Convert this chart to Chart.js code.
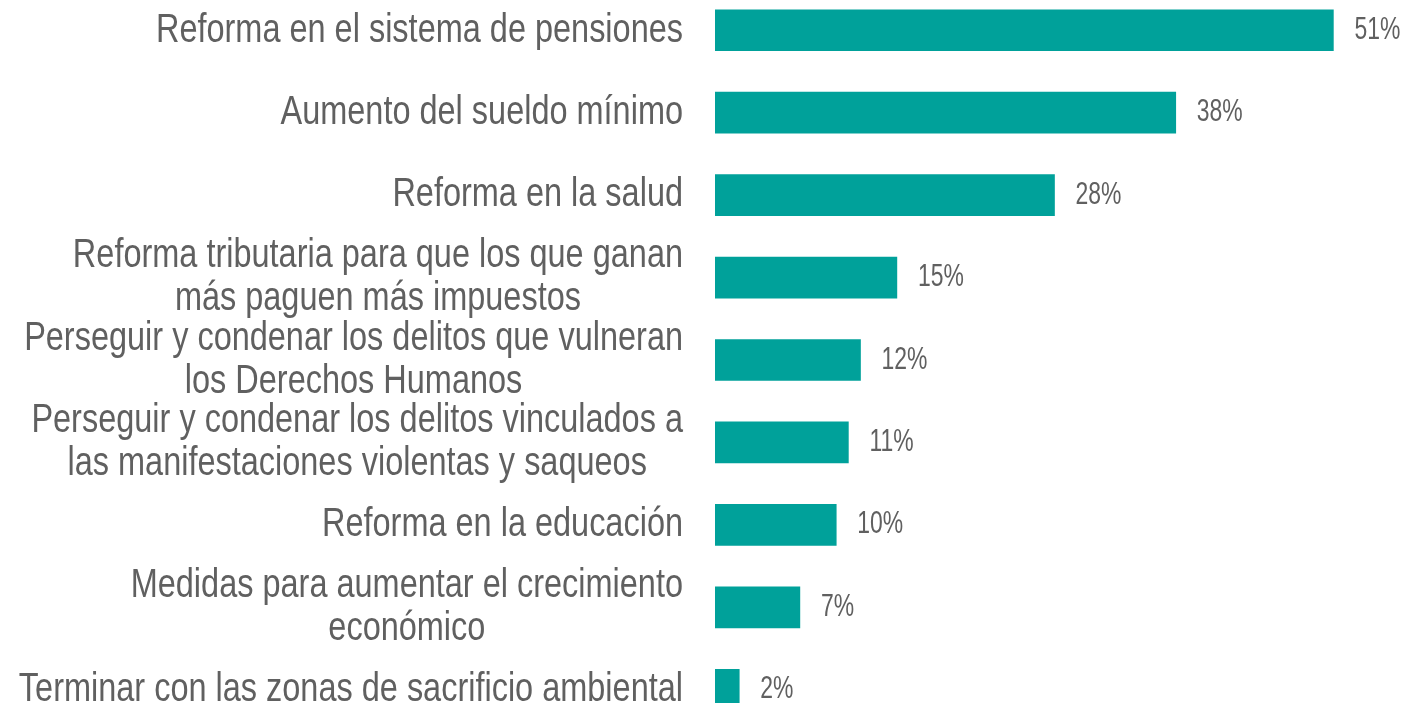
<!DOCTYPE html>
<html>
<head>
<meta charset="utf-8">
<script src="https://cdn.jsdelivr.net/npm/chart.js@4"></script>
<style>
  html, body { margin: 0; padding: 0; background: #fff; overflow: hidden; }
  #wrap { position: relative; width: 1411px; height: 742px; margin-top: -11px; }
</style>
</head>
<body>
<div id="wrap"><canvas id="pollChart"></canvas></div>
<script>
const categories = [
  "Reforma en el sistema de pensiones",
  "Aumento del sueldo mínimo",
  "Reforma en la salud",
  ["Reforma tributaria para que los que ganan", "más paguen más impuestos"],
  ["Perseguir y condenar los delitos que vulneran", "los Derechos Humanos"],
  ["Perseguir y condenar los delitos vinculados a", "las manifestaciones violentas y saqueos"],
  "Reforma en la educación",
  ["Medidas para aumentar el crecimiento", "económico"],
  "Terminar con las zonas de sacrificio ambiental",
];
const values = [51, 38, 28, 15, 12, 11, 10, 7, 2];

const fontName = "'Liberation Sans', Arial, sans-serif";
const textColor = "#606060";

// the original text is a squeezed Arial, so draw it with a horizontal scale
function squeezedText(ctx, text, x, y, sx, align) {
  ctx.save();
  ctx.translate(x, y);
  ctx.scale(sx, 1);
  ctx.textAlign = align;
  ctx.fillText(text, 0, 0);
  ctx.restore();
}

const labelsPlugin = {
  id: "labelsPlugin",
  afterDatasetsDraw(chart) {
    const ctx = chart.ctx;
    const yScale = chart.scales.y;
    const meta = chart.getDatasetMeta(0);
    const sx = 0.792;
    ctx.save();
    ctx.fillStyle = textColor;
    ctx.textBaseline = "middle";

    // category labels, right aligned left of the bars
    ctx.font = "41px " + fontName;
    const lineGap = 43;
    categories.forEach((lab, i) => {
      const lines = Array.isArray(lab) ? lab : [lab];
      const cy = yScale.getPixelForTick(i);
      const right = yScale.right - 32;
      lines.forEach((line, j) => {
        const y = cy + (j - (lines.length - 1) / 2) * lineGap;
        if (lines.length > 1) {
          // wrapped lines are centred on the widest line
          const widest = Math.max(...lines.map(l => ctx.measureText(l).width)) * sx;
          squeezedText(ctx, line, right - widest / 2, y, sx, "center");
        } else {
          squeezedText(ctx, line, right, y, sx, "right");
        }
      });
    });

    // value labels at the end of each bar
    ctx.font = "31px " + fontName;
    meta.data.forEach((bar, i) => {
      squeezedText(ctx, values[i] + "%", bar.x + 21, bar.y, 0.74, "left");
    });
    ctx.restore();
  },
};

const ctx = document.getElementById("pollChart").getContext("2d");
const pollChart = new Chart(ctx, {
  type: "bar",
  data: {
    labels: categories,
    datasets: [
      {
        data: values,
        backgroundColor: "#00A19A",
        borderWidth: 0,
        barThickness: 41,
      },
    ],
  },
  options: {
    indexAxis: "y",
    responsive: true,
    maintainAspectRatio: false,
    animation: false,
    layout: { padding: { left: 0, right: 17, top: 0, bottom: 0 } },
    plugins: {
      legend: { display: false },
      tooltip: { enabled: false },
    },
    scales: {
      x: {
        min: 0,
        max: 56,
        display: false,
        grid: { display: false },
      },
      y: {
        border: { display: false },
        grid: { display: false, drawTicks: false },
        afterFit(scale) { scale.width = 715; },
        ticks: { display: false, autoSkip: false },
      },
    },
  },
  plugins: [labelsPlugin],
});
</script>
</body>
</html>
